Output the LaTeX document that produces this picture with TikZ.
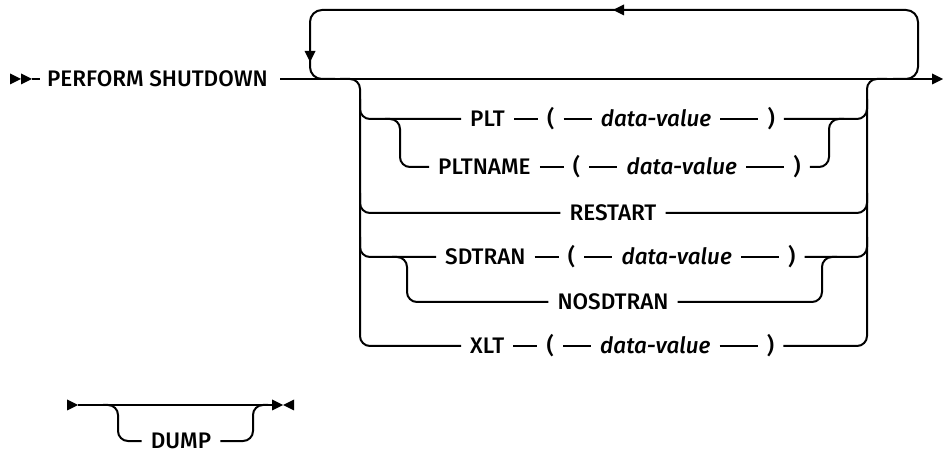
\documentclass[tikz,border=0pt]{standalone}
\usepackage{fontspec}
\setmainfont{Fira Sans}[UprightFont=* Medium, ItalicFont=* Medium Italic]
\usetikzlibrary{positioning,calc}

\tikzset{
  kw/.style={inner xsep=9pt, inner ysep=0pt, text height=15.5pt, text depth=0pt,
    font=\fontsize{22.5}{26}\selectfont},
  var/.style={kw, font=\fontsize{22.5}{26}\selectfont\itshape},
  rail/.style={line width=2pt, rounded corners=10pt},
  tipr/.pic={\fill (-11,-5.5) -- (0,0) -- (-11,5.5) -- cycle;},
}

\begin{document}
\begin{tikzpicture}[x=1pt,y=-1pt]
  \useasboundingbox (0,0) rectangle (943,454);
  %% Rails and loop
  \coordinate (railL) at (360,79);
  \coordinate (railR) at (867,79);
  \coordinate (subL1) at (400,119);
  \coordinate (subR1) at (829,119);
  \coordinate (subL2) at (407,257);
  \coordinate (subR2) at (822,257);
  \coordinate (loopL) at (310,10);
  \coordinate (loopR) at (918,10);
  \coordinate (mainEnd) at (932,79);

  %% Statement name
  \pic at (21,79) {tipr};
  \pic at (32,79) {tipr};
  \node[kw, anchor=west, inner xsep=7pt] (ps) at (40,79) {PERFORM SHUTDOWN};
  \draw[rail] (32,79) -- (ps.west);
  \draw[rail] (280,79) -- (mainEnd);
  \pic at (943,79) {tipr};

  %% Repeat loop
  \draw[rail, rounded corners=12pt] (893,79) -| (loopR) -- (loopL) |- (335,79);
  \pic[rotate=180] at (613,10) {tipr};
  \pic[rotate=-90] at (310,62) {tipr};

  %% Options
  \node[kw, anchor=west] (plt) at (461,119) {PLT};
  \node[kw, right=24pt of plt] (pltL) {(};
  \node[var, right=28pt of pltL] (pltV) {data-value};
  \node[kw, right=38pt of pltV] (pltR) {)};

  \node[kw, anchor=west] (pltn) at (429,167) {PLTNAME};
  \node[kw, right=24pt of pltn] (pltnL) {(};
  \node[var, right=28pt of pltnL] (pltnV) {data-value};
  \node[kw, right=38pt of pltnV] (pltnR) {)};

  \node[kw] (rst) at (613,213) {RESTART};

  \node[kw, anchor=west] (sd) at (436,257) {SDTRAN};
  \node[kw, right=24pt of sd] (sdL) {(};
  \node[var, right=28pt of sdL] (sdV) {data-value};
  \node[kw, right=38pt of sdV] (sdR) {)};

  \node[kw] (nosd) at (613,302) {NOSDTRAN};

  \node[kw, anchor=west] (xlt) at (461,346) {XLT};
  \node[kw, right=24pt of xlt] (xltL) {(};
  \node[var, right=28pt of xltL] (xltV) {data-value};
  \node[kw, right=38pt of xltV] (xltR) {)};

  \foreach \a/\b in {plt/pltL, pltL/pltV, pltV/pltR, pltn/pltnL, pltnL/pltnV, pltnV/pltnR,
    sd/sdL, sdL/sdV, sdV/sdR, xlt/xltL, xltL/xltV, xltV/xltR}
    \draw[rail] (\a) -- (\b);

  %% Outer choice
  \draw[rail] ($(railL)+(-20,0)$) -- (railL) |- (xlt.west);
  \draw[rail] (xltR.east) -| (railR) -- ++(20,0);
  \foreach \n in {plt,rst,sd}
    \draw[rail] ($(railL |- \n)+(0,-20)$) -- (railL |- \n) -- (\n.west);
  \foreach \n/\e in {plt/pltR, rst/rst, sd/sdR}
    \draw[rail] (\e.east) -- (railR |- \n) -- ($(railR |- \n)+(0,-20)$);

  %% Inner choices
  \draw[rail] ($(subL1)+(-15,0)$) -- (subL1) |- (pltn.west);
  \draw[rail] (pltnR.east) -| (subR1) -- ++(15,0);
  \draw[rail] ($(subL2)+(-15,0)$) -- (subL2) |- (nosd.west);
  \draw[rail] (nosd.east) -| (subR2) -- ++(15,0);

  %% Optional DUMP
  \coordinate (d0) at (78,405);
  \coordinate (d1) at (273,405);
  \coordinate (dL) at (118,405);
  \coordinate (dR) at (253,405);
  \pic at (78,405) {tipr};
  \draw[rail] (d0) -- (d1);
  \pic at (283,405) {tipr};
  \pic[rotate=180] at (283,405) {tipr};
  \node[kw] (dump) at (181,441) {DUMP};
  \draw[rail] ($(dL)+(-15,0)$) -- (dL) |- (dump.west);
  \draw[rail] (dump.east) -| (dR) -- ++(15,0);
\end{tikzpicture}
\end{document}
